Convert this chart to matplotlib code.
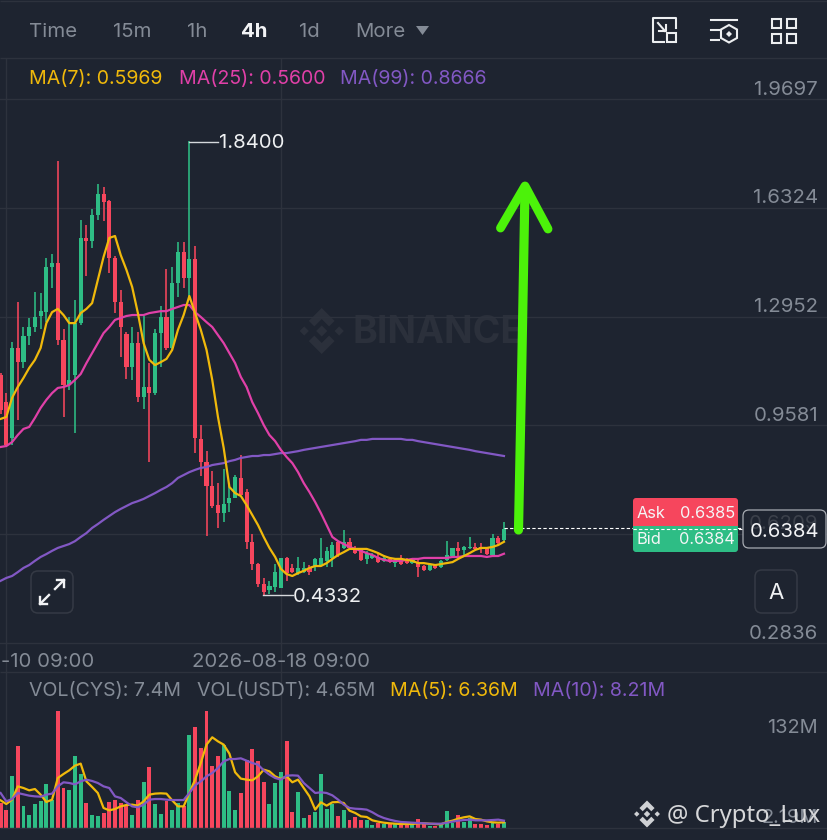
"""Recreate the CYS/USDT 4h candlestick screenshot with volume panel."""

import matplotlib

matplotlib.use("Agg")
import matplotlib.pyplot as plt  # noqa: E402
import numpy as np  # noqa: E402
from matplotlib.patches import FancyBboxPatch, Polygon, Rectangle  # noqa: E402

plt.rcParams["font.family"] = ["Inter", "DejaVu Sans"]

BG = "#1e2430"
GRID = "#2d323d"
GREY = "#848b96"
UP = "#2ebd85"
DOWN = "#f6465d"
YELLOW = "#f0b90b"
PINK = "#e040a8"
PURPLE = "#8258c4"

highs = [
    1.120, 1.058, 1.216, 1.340, 1.263, 1.291, 1.371, 1.368, 1.477, 1.489,
    1.778, 1.257, 1.294, 1.347, 1.595, 1.579, 1.629, 1.706, 1.697, 1.657,
    1.483, 1.378, 1.247, 1.263, 1.247, 1.297, 1.151, 1.257, 1.328, 1.443,
    1.449, 1.526, 1.526, 1.840, 1.514, 0.959, 0.879, 0.817, 0.779, 0.823,
    0.779, 0.804, 0.866, 0.761, 0.621, 0.531, 0.485, 0.476, 0.528, 0.547,
    0.550, 0.528, 0.550, 0.534, 0.525, 0.547, 0.609, 0.581, 0.596, 0.600,
    0.634, 0.609, 0.584, 0.578, 0.569, 0.562, 0.562, 0.556, 0.550, 0.547,
    0.556, 0.547, 0.547, 0.547, 0.525, 0.528, 0.528, 0.541, 0.600, 0.578,
    0.596, 0.584, 0.612, 0.593, 0.593, 0.581, 0.621, 0.615, 0.658,
]
lows = [
    0.993, 0.891, 0.897, 0.975, 1.136, 1.207, 1.247, 1.257, 1.278, 1.384,
    1.207, 0.984, 1.068, 0.934, 1.269, 1.421, 1.508, 1.595, 1.592, 1.430,
    1.306, 1.170, 1.102, 1.099, 1.030, 1.009, 0.844, 1.052, 1.139, 1.192,
    1.192, 1.356, 1.384, 1.356, 0.872, 0.801, 0.615, 0.702, 0.640, 0.658,
    0.689, 0.733, 0.742, 0.575, 0.510, 0.457, 0.433, 0.436, 0.441, 0.454,
    0.476, 0.500, 0.494, 0.500, 0.494, 0.507, 0.522, 0.519, 0.519, 0.550,
    0.575, 0.572, 0.559, 0.538, 0.528, 0.544, 0.531, 0.534, 0.531, 0.519,
    0.525, 0.528, 0.528, 0.488, 0.507, 0.507, 0.513, 0.516, 0.538, 0.550,
    0.553, 0.556, 0.575, 0.569, 0.562, 0.556, 0.556, 0.587, 0.596,
]
opens = [
    1.114, 1.030, 0.919, 1.198, 1.154, 1.235, 1.263, 1.297, 1.309, 1.449,
    1.461, 1.223, 1.083, 1.114, 1.275, 1.539, 1.530, 1.610, 1.675, 1.654,
    1.477, 1.340, 1.241, 1.139, 1.213, 1.046, 1.077, 1.058, 1.244, 1.294,
    1.198, 1.399, 1.495, 1.415, 1.474, 0.916, 0.844, 0.770, 0.711, 0.686,
    0.717, 0.733, 0.795, 0.751, 0.596, 0.528, 0.466, 0.448, 0.457, 0.454,
    0.547, 0.516, 0.500, 0.503, 0.516, 0.522, 0.522, 0.538, 0.547, 0.596,
    0.578, 0.596, 0.578, 0.572, 0.544, 0.547, 0.550, 0.538, 0.544, 0.531,
    0.547, 0.544, 0.531, 0.531, 0.522, 0.510, 0.525, 0.519, 0.541, 0.553,
    0.578, 0.572, 0.578, 0.581, 0.581, 0.581, 0.556, 0.609, 0.603,
]
closes = [
    1.006, 0.897, 1.198, 1.154, 1.235, 1.263, 1.294, 1.312, 1.449, 1.461,
    1.223, 1.083, 1.099, 1.275, 1.539, 1.530, 1.610, 1.675, 1.650, 1.477,
    1.340, 1.263, 1.139, 1.213, 1.046, 1.077, 1.058, 1.244, 1.294, 1.198,
    1.399, 1.495, 1.415, 1.474, 0.919, 0.844, 0.770, 0.708, 0.686, 0.714,
    0.733, 0.798, 0.742, 0.596, 0.528, 0.466, 0.441, 0.460, 0.503, 0.547,
    0.500, 0.503, 0.516, 0.516, 0.503, 0.544, 0.547, 0.569, 0.587, 0.556,
    0.596, 0.578, 0.562, 0.541, 0.562, 0.556, 0.534, 0.547, 0.534, 0.541,
    0.528, 0.531, 0.541, 0.519, 0.510, 0.525, 0.516, 0.538, 0.556, 0.578,
    0.569, 0.581, 0.581, 0.575, 0.575, 0.559, 0.609, 0.593, 0.637,
]
ma7 = [
    0.978, 0.984, 1.043, 1.077, 1.105, 1.136, 1.161, 1.198, 1.275, 1.309,
    1.319, 1.300, 1.275, 1.275, 1.306, 1.319, 1.337, 1.409, 1.480, 1.539,
    1.545, 1.486, 1.440, 1.387, 1.306, 1.213, 1.161, 1.145, 1.154, 1.164,
    1.192, 1.254, 1.300, 1.359, 1.306, 1.254, 1.192, 1.099, 0.984, 0.888,
    0.767, 0.748, 0.739, 0.711, 0.680, 0.649, 0.612, 0.578, 0.550, 0.513,
    0.497, 0.491, 0.500, 0.507, 0.516, 0.522, 0.522, 0.531, 0.544, 0.556,
    0.565, 0.575, 0.575, 0.575, 0.575, 0.569, 0.562, 0.553, 0.547, 0.544,
    0.544, 0.541, 0.538, 0.531, 0.531, 0.528, 0.525, 0.528, 0.531, 0.534,
    0.544, 0.553, 0.562, 0.572, 0.578, 0.578, 0.581, 0.587, 0.597,
]
ma25 = [
    0.891, 0.894, 0.906, 0.928, 0.947, 0.953, 0.981, 1.012, 1.037, 1.058,
    1.074, 1.077, 1.083, 1.099, 1.117, 1.151, 1.182, 1.213, 1.244, 1.263,
    1.285, 1.291, 1.297, 1.300, 1.300, 1.300, 1.306, 1.309, 1.312, 1.312,
    1.319, 1.325, 1.331, 1.331, 1.309, 1.294, 1.278, 1.263, 1.238, 1.213,
    1.182, 1.151, 1.108, 1.077, 1.030, 0.996, 0.959, 0.928, 0.909, 0.882,
    0.860, 0.841, 0.813, 0.779, 0.751, 0.720, 0.686, 0.649, 0.612, 0.599,
    0.590, 0.581, 0.575, 0.569, 0.562, 0.556, 0.547, 0.541, 0.538, 0.538,
    0.538, 0.541, 0.544, 0.544, 0.547, 0.547, 0.547, 0.547, 0.547, 0.550,
    0.550, 0.553, 0.553, 0.553, 0.553, 0.550, 0.553, 0.553, 0.560,
]
ma99 = [
    0.476, 0.485, 0.491, 0.503, 0.516, 0.525, 0.538, 0.550, 0.559, 0.569,
    0.578, 0.584, 0.590, 0.599, 0.612, 0.624, 0.640, 0.652, 0.665, 0.677,
    0.689, 0.699, 0.708, 0.717, 0.723, 0.730, 0.739, 0.748, 0.758, 0.767,
    0.779, 0.795, 0.804, 0.813, 0.820, 0.826, 0.829, 0.835, 0.838, 0.841,
    0.847, 0.851, 0.857, 0.860, 0.863, 0.863, 0.866, 0.866, 0.869, 0.872,
    0.872, 0.875, 0.878, 0.882, 0.885, 0.888, 0.891, 0.894, 0.897, 0.900,
    0.903, 0.906, 0.909, 0.913, 0.913, 0.916, 0.916, 0.916, 0.916, 0.916,
    0.916, 0.913, 0.913, 0.909, 0.906, 0.903, 0.900, 0.897, 0.894, 0.891,
    0.888, 0.885, 0.882, 0.878, 0.875, 0.872, 0.869, 0.866, 0.863,
]
volumes = [
    32.0, 23.5, 67.0, 105.4, 27.7, 16.2, 31.1, 35.0, 56.3, 36.3,
    149.3, 50.8, 48.2, 92.6, 69.6, 32.0, 16.2, 14.9, 19.2, 32.9,
    35.4, 32.0, 29.0, 16.2, 36.3, 58.9, 77.7, 31.1, 18.3, 34.1,
    23.5, 32.0, 27.7, 119.5, 128.9, 102.4, 150.2, 78.9, 92.6, 105.8,
    47.8, 22.6, 44.8, 87.5, 101.1, 86.2, 58.9, 30.7, 57.6, 71.7,
    111.4, 20.5, 46.1, 12.8, 16.2, 20.1, 69.1, 24.7, 30.7, 14.9,
    23.0, 10.7, 14.1, 9.8, 10.2, 3.8, 6.0, 4.7, 6.0, 5.1,
    4.7, 4.3, 4.7, 11.9, 4.7, 3.0, 3.0, 3.8, 22.2, 6.4,
    16.2, 8.1, 12.8, 5.5, 5.5, 4.3, 6.8, 5.5, 8.1,
]
vol_ma5 = [
    35.4, 30.7, 36.3, 53.3, 51.2, 48.2, 49.9, 42.7, 33.3, 36.3,
    64.0, 69.1, 73.8, 79.8, 82.4, 59.7, 52.5, 44.8, 25.6, 22.6,
    24.3, 27.7, 29.4, 29.9, 28.6, 34.1, 42.7, 44.0, 44.4, 44.0,
    35.4, 27.7, 27.7, 44.8, 61.9, 83.2, 106.7, 116.1, 110.9, 106.7,
    95.2, 71.3, 63.2, 61.9, 61.0, 66.1, 74.7, 72.5, 66.1, 62.7,
    66.1, 58.5, 61.9, 51.2, 40.5, 23.5, 32.9, 28.6, 32.9, 33.3,
    32.0, 22.2, 19.2, 14.9, 14.1, 9.8, 8.1, 6.8, 6.0, 5.5,
    5.1, 5.1, 5.1, 6.0, 6.0, 5.5, 5.1, 4.7, 7.7, 9.4,
    11.9, 13.7, 14.9, 11.5, 10.7, 8.5, 7.3, 6.8, 7.3,
]
vol_ma10 = [
    44.8, 34.1, 37.1, 44.8, 43.1, 41.4, 40.5, 40.1, 42.7, 44.0,
    53.3, 58.5, 57.6, 55.9, 59.7, 61.9, 60.2, 57.6, 53.3, 51.2,
    40.5, 38.4, 32.9, 27.7, 26.5, 29.9, 36.3, 37.1, 37.1, 36.3,
    35.8, 35.8, 35.8, 44.8, 54.6, 59.7, 66.1, 70.4, 76.8, 85.3,
    88.3, 88.3, 89.2, 86.2, 83.2, 81.1, 73.8, 68.3, 64.0, 61.9,
    67.0, 67.4, 67.0, 57.6, 51.2, 44.8, 45.7, 44.8, 41.8, 36.3,
    29.9, 25.6, 24.7, 24.3, 23.5, 20.1, 15.8, 12.8, 10.7, 9.0,
    7.7, 7.3, 6.8, 6.4, 6.0, 5.5, 5.5, 5.5, 6.8, 8.1,
    9.4, 10.2, 10.7, 9.8, 9.8, 9.8, 10.2, 10.7, 9.4,
]
grid_prices = [1.9697, 1.6324, 1.2952, 0.9581, 0.6209, 0.2836]
price_labels = ["1.9697", "1.6324", "1.2952", "0.9581", None, "0.2836"]
date_ticks = [1, 49]
last_price = 0.6384


def px_rect(y_top, y_bottom):
    """Axes rectangle for a full width panel between two pixel rows."""
    return [0, 1 - y_bottom / 840, 1, (y_bottom - y_top) / 840]


def screen_axes(zorder):
    """Transparent axes over the whole figure, in screen pixels."""
    a = fig.add_axes([0, 0, 1, 1], facecolor="none", zorder=zorder)
    a.set_xlim(0, 828)
    a.set_ylim(840, 0)
    a.axis("off")
    return a


def round_box(ax, x0, y0, x1, y1, radius, **kw):
    ax.add_patch(FancyBboxPatch((x0, y0), x1 - x0, y1 - y0,
                                boxstyle=f"round,pad=0,rounding_size={radius}", **kw))


def binance_logo(ax, cx, cy, r, color):
    for dx, s in [(0, 0.24), (-0.76, 0.2), (0.76, 0.2)]:
        ax.add_patch(Polygon([(cx + dx * r - s * r, cy), (cx + dx * r, cy - s * r),
                              (cx + dx * r + s * r, cy), (cx + dx * r, cy + s * r)],
                             color=color, lw=0))
    for sign in (-1, 1):
        shape = [(0, 1), (0.56, 0.44), (0.32, 0.2), (0, 0.52), (-0.32, 0.2), (-0.56, 0.44)]
        ax.add_patch(Polygon([(cx + a * r, cy + sign * b * r) for a, b in shape],
                             color=color, lw=0))


fig = plt.figure(figsize=(8.28, 8.40), dpi=100, facecolor=BG)
back = screen_axes(0)
ax = fig.add_axes(px_rect(58, 672), facecolor="none", zorder=1)
vol_ax = fig.add_axes(px_rect(673, 828), facecolor="none", zorder=1)
over = screen_axes(5)

idx = np.arange(len(closes))

binance_logo(back, 321.7, 331, 23, "#2b303b")
back.text(353, 333, "BINANCE", color="#2b303b", fontsize=27, fontweight="bold",
          ha="left", va="center")

for a in (ax, vol_ax):
    a.set_xlim(-0.105, 144.65)
    for spine in a.spines.values():
        spine.set_visible(False)
    a.set_xticks(date_ticks)
    a.tick_params(length=0, labelbottom=False, labelleft=False)
    a.grid(axis="x", color=GRID, lw=1.0)
    a.set_axisbelow(True)

# price panel
ax.set_ylim(2.2766 - 0.0031 * 672, 2.2766 - 0.0031 * 58)
ax.set_yticks(grid_prices)
ax.grid(axis="y", color=GRID, lw=1.0)
for i in idx:
    color = UP if closes[i] >= opens[i] else DOWN
    ax.vlines(i, lows[i], highs[i], color=color, lw=1.15, zorder=2)
    ax.bar(i, max(abs(closes[i] - opens[i]), 0.002), bottom=min(opens[i], closes[i]),
           width=0.72, color=color, lw=0, zorder=3)
ax.plot(idx, ma99, color=PURPLE, lw=1.6, zorder=4)
ax.plot(idx, ma25, color=PINK, lw=1.6, zorder=5)
ax.plot(idx, ma7, color=YELLOW, lw=1.6, zorder=6)
ax.hlines(last_price, idx[-1], 129.4, color="white", lw=0.8, ls=(0, (3, 2)), zorder=4)
for value, label in zip(grid_prices, price_labels):
    if label:
        ax.text(818 / 828, value + 0.001, label, transform=ax.get_yaxis_transform(),
                color=GREY, fontsize=14.7, ha="right", va="bottom")

# volume panel
vol_ax.set_ylim(0, 198.4)
vol_ax.set_yticks([])
vol_colors = [UP if c >= o else DOWN for o, c in zip(opens, closes)]
vol_ax.bar(idx, volumes, width=0.68, color=vol_colors, lw=0, zorder=2)
vol_ax.plot(idx, vol_ma5, color=YELLOW, lw=1.6, zorder=3)
vol_ax.plot(idx, vol_ma10, color=PURPLE, lw=1.6, zorder=4)

# everything below uses screen pixels
over.hlines([1, 58, 672, 828], 0, 828, color=GRID, lw=1.0)

for x, text, color, weight in [
    (29, "Time", GREY, "normal"), (113, "15m", GREY, "normal"), (187, "1h", GREY, "normal"),
    (241, "4h", "#f2f3f5", "bold"), (299, "1d", GREY, "normal"), (355, "More", GREY, "normal"),
]:
    over.text(x, 32, text, color=color, fontsize=14.7, fontweight=weight, ha="left", va="center")
over.add_patch(Polygon([(416, 26), (429, 26), (422.5, 35)], color=GREY, lw=0))

for x, y, text, color in [
    (29, 79, "MA(7): 0.5969", YELLOW), (179, 79, "MA(25): 0.5600", PINK),
    (340, 79, "MA(99): 0.8666", PURPLE), (29, 691, "VOL(CYS): 7.4M", GREY),
    (197, 691, "VOL(USDT): 4.65M", GREY), (390, 691, "MA(5): 6.36M", YELLOW),
    (533, 691, "MA(10): 8.21M", PURPLE),
]:
    over.text(x, y, text, color=color, fontsize=14.1, ha="left", va="center")

over.text(94, 662, "-10 09:00", color=GREY, fontsize=14.6, ha="right", va="center")
over.text(281, 662, "2026-08-18 09:00", color=GREY, fontsize=14.6, ha="center", va="center")

over.text(818, 728, "132M", color=GREY, fontsize=14.4, ha="right", va="center")
over.text(818, 818, "2.19M", color=GREY, fontsize=14.4, ha="right", va="center")

# high / low markers
over.plot([189, 218], [142, 142], color="#d5d8dc", lw=1.0)
over.text(219, 143, "1.8400", color="#eef0f2", fontsize=14.6, ha="left", va="center")
over.plot([263, 293], [595, 595], color="#d5d8dc", lw=1.0)
over.text(293, 597, "0.4332", color="#eef0f2", fontsize=14.6, ha="left", va="center")

# the hand drawn arrow
lime = "#4cf20a"
over.plot([518.5, 521.7, 525], [530, 370, 188], color=lime, lw=6.6, solid_capstyle="round", zorder=8)
over.plot([500.5, 525, 548], [228, 186, 229], color=lime, lw=6.4, solid_capstyle="round",
          solid_joinstyle="round", zorder=8)

# ask / bid and last price
round_box(over, 633, 498, 738, 530, 3, fc=DOWN, ec="none", zorder=3)
round_box(over, 633, 522, 738, 552, 3, fc=UP, ec="none", zorder=3)
over.add_patch(Rectangle((633, 522), 105, 3.5, fc=DOWN, ec="none", zorder=3.1))
over.plot([633, 742], [529, 529], color="white", lw=0.8, ls=(0, (3, 2)), zorder=4)
for y, left, right in [(513, "Ask", "0.6385"), (540, "Bid", "0.6384")]:
    over.text(637, y, left, color="#f4f6f7", fontsize=11.8, ha="left", va="center", zorder=5)
    over.text(735, y, right, color="#f4f6f7", fontsize=11.8, ha="right", va="center", zorder=5)
round_box(over, 743, 510, 826, 548, 6, fc=BG, ec="#a7abb2", lw=0.9, zorder=3)
over.text(818, 524, "0.6209", color="#3c414b", fontsize=14.7, ha="right", va="center", zorder=3.5)
over.text(785, 532, "0.6384", color="#f2f3f5", fontsize=14.6, ha="center", va="center", zorder=4)

# floating buttons
round_box(over, 31, 571, 73, 613, 7, fc=BG, ec="#353a45", lw=1.1, zorder=3)
round_box(over, 755, 570, 797, 613, 7, fc=BG, ec="#353a45", lw=1.1, zorder=3)
over.text(776, 593, "A", color="#eef0f2", fontsize=16, ha="center", va="center", zorder=4)
for p0, p1 in [((40, 604), (49, 595)), ((55, 589), (64, 580))]:
    over.plot(*zip(p0, p1), color="#f2f3f5", lw=1.7, zorder=4)
over.plot([40, 40, 47], [597, 604, 604], color="#f2f3f5", lw=1.7, zorder=4)
over.plot([57, 64, 64], [580, 580, 587], color="#f2f3f5", lw=1.7, zorder=4)

# toolbar icons
white = "#eceef0"
over.plot([666, 653, 653, 664], [18, 18, 42, 42], color=white, lw=1.5)
over.plot([668, 676, 676], [18, 18, 28], color=white, lw=1.5)
over.add_patch(Rectangle((667, 33), 9, 9, fc="none", ec=white, lw=1.5))
over.plot([658, 665], [23, 31], color=white, lw=1.5)
over.plot([659, 666, 666], [31, 31, 25], color=white, lw=1.5)
over.plot([711, 737], [20, 20], color=white, lw=1.5)
over.plot([711, 719], [30, 30], color=white, lw=1.5)
over.plot([711, 719], [40, 40], color=white, lw=1.5)
over.add_patch(Polygon([(729, 25), (737, 29.5), (737, 38), (729, 42.5), (721, 38), (721, 29.5)],
                       fc="none", ec=white, lw=1.5))
over.add_patch(Polygon([(729, 31), (732, 34), (729, 37), (726, 34)], color=white, lw=0))
for x in (772, 787):
    for y in (19, 34):
        over.add_patch(Rectangle((x, y), 9.5, 8.5, fc="none", ec=white, lw=1.5))

# reposter watermark
binance_logo(over, 647, 814, 13.5, "#cfd1d4")
over.text(667, 816, "@ Crypto_Lux", color="#d6d7d9", fontsize=17.2, family="Noto Sans",
          ha="left", va="center", zorder=6)

fig.savefig("out.png", dpi=100, facecolor=BG)
plt.close(fig)
